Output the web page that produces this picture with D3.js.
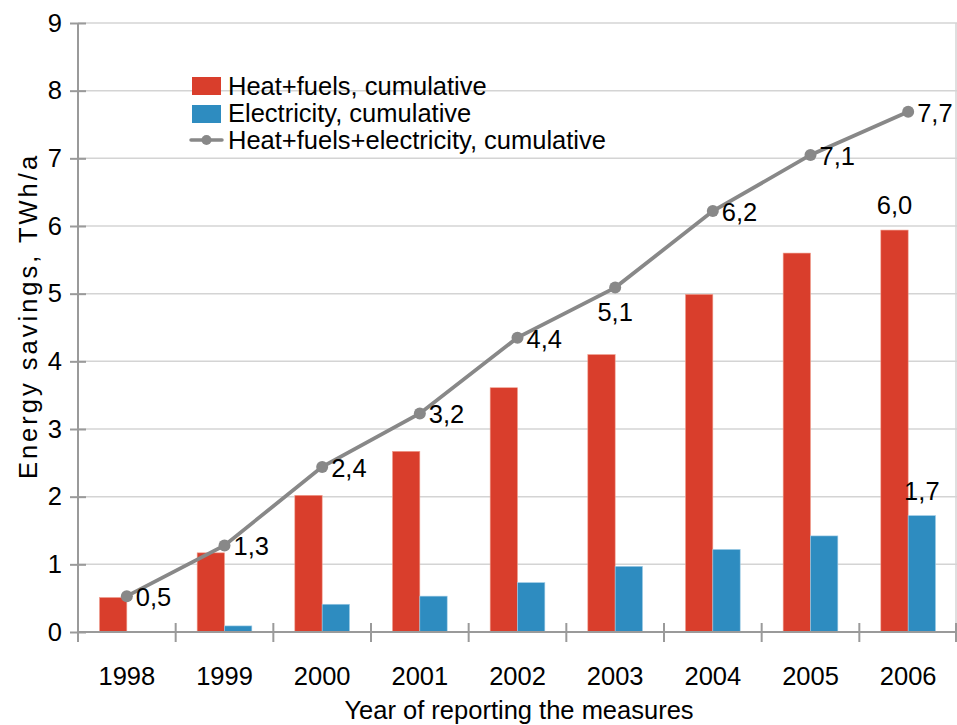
<!DOCTYPE html>
<html>
<head>
<meta charset="utf-8">
<script src="https://cdn.jsdelivr.net/npm/d3@7"></script>
<style>
  body { margin: 0; background: #fff; }
  text { font-family: "Liberation Sans", Arial, sans-serif; fill: #000; }
</style>
</head>
<body>
<script>
// data
var years = ["1998", "1999", "2000", "2001", "2002", "2003", "2004", "2005", "2006"];
var heatFuels = [0.51, 1.17, 2.02, 2.67, 3.61, 4.10, 4.99, 5.60, 5.94];
var electricity = [0, 0.09, 0.41, 0.53, 0.73, 0.97, 1.22, 1.42, 1.72];
var total = [0.53, 1.28, 2.44, 3.23, 4.35, 5.09, 6.22, 7.05, 7.69];
var totalLabels = ["0,5", "1,3", "2,4", "3,2", "4,4", "5,1", "6,2", "7,1", "7,7"];
var yTicks = [0, 1, 2, 3, 4, 5, 6, 7, 8, 9];
var legendNames = ["Heat+fuels, cumulative", "Electricity, cumulative", "Heat+fuels+electricity, cumulative"];

var width = 957, height = 725;
var margin = {left: 78, right: 0, top: 23, bottom: 93};
var red = "#d93e2c", blue = "#2e8cc0", grey = "#888888", axisGrey = "#9a9a9a";
var fontSize = 25.5;

var svg = d3.select("body").append("svg")
    .attr("width", width)
    .attr("height", height);

var x = d3.scaleBand()
    .domain(years)
    .range([margin.left, width - margin.right]);

var y = d3.scaleLinear()
    .domain([0, 9])
    .range([height - margin.bottom, margin.top]);

var bw = x.bandwidth();
var barW = bw * 0.28;
var mid = function (d) { return x(d) + bw / 2; };

// grid lines
svg.append("g")
    .selectAll("line")
    .data(yTicks.slice(1))
    .enter()
    .append("line")
    .attr("x1", margin.left)
    .attr("x2", width - margin.right)
    .attr("y1", function (d) { return y(d); })
    .attr("y2", function (d) { return y(d); })
    .style("stroke", "#d4d4d4")
    .style("stroke-width", 1.5);

// right border
svg.append("line")
    .attr("x1", width - 1).attr("x2", width - 1)
    .attr("y1", y(9)).attr("y2", y(0))
    .style("stroke", "#d4d4d4")
    .style("stroke-width", 1.5);

// bars
svg.append("g")
    .selectAll("rect")
    .data(years)
    .enter()
    .append("rect")
    .attr("x", function (d) { return mid(d) - barW; })
    .attr("y", function (d, i) { return y(heatFuels[i]); })
    .attr("width", barW)
    .attr("height", function (d, i) { return y(0) - y(heatFuels[i]); })
    .style("fill", red)
    .style("stroke", "#f0a090")
    .style("stroke-width", 0.6);

svg.append("g")
    .selectAll("rect")
    .data(years.filter(function (d, i) { return electricity[i] > 0; }))
    .enter()
    .append("rect")
    .attr("x", function (d) { return mid(d); })
    .attr("y", function (d) { return y(electricity[years.indexOf(d)]); })
    .attr("width", barW)
    .attr("height", function (d) { return y(0) - y(electricity[years.indexOf(d)]); })
    .style("fill", blue)
    .style("stroke", "#a0cce6")
    .style("stroke-width", 0.6);

// axes
var yAxis = d3.axisLeft(y).tickValues(yTicks).tickSize(8).tickPadding(8);
var gy = svg.append("g")
    .attr("transform", "translate(" + margin.left + ",0)")
    .call(yAxis);
gy.selectAll(".tick line").attr("x2", -8).attr("x1", 8);
gy.select(".domain").attr("d", "M0," + y(9) + "V" + (y(0) + 10));

var xAxis = d3.axisBottom(x).tickSize(0).tickPadding(35);
var gx = svg.append("g")
    .attr("transform", "translate(0," + y(0) + ")")
    .call(xAxis);
gx.select(".domain").attr("d", "M" + margin.left + ",0H" + width);

// category separator ticks
gx.selectAll(".sep")
    .data(years.concat(["end"]))
    .enter()
    .append("line")
    .attr("class", "sep")
    .attr("x1", function (d, i) { return i < years.length ? x(d) : width - 1; })
    .attr("x2", function (d, i) { return i < years.length ? x(d) : width - 1; })
    .attr("y1", -9)
    .attr("y2", 10);

svg.selectAll(".domain, .tick line, .sep")
    .style("stroke", axisGrey)
    .style("stroke-width", 2);
svg.selectAll(".tick text")
    .style("font-size", fontSize + "px")
    .style("font-family", "Liberation Sans, Arial, sans-serif")
    .attr("fill", "#000");

// total line
var line = d3.line()
    .x(function (d, i) { return mid(years[i]); })
    .y(function (d) { return y(d); });

svg.append("path")
    .datum(total)
    .attr("d", line)
    .style("fill", "none")
    .style("stroke", grey)
    .style("stroke-width", 3.8);

svg.append("g")
    .selectAll("circle")
    .data(total)
    .enter()
    .append("circle")
    .attr("cx", function (d, i) { return mid(years[i]); })
    .attr("cy", function (d) { return y(d); })
    .attr("r", 6)
    .style("fill", grey);

// total labels
svg.append("g")
    .selectAll("text")
    .data(total)
    .enter()
    .append("text")
    .attr("x", function (d, i) { return i == 5 ? mid(years[i]) : mid(years[i]) + 9; })
    .attr("y", function (d, i) { return i == 5 ? y(d) + 33 : y(d) + 10; })
    .attr("text-anchor", function (d, i) { return i == 5 ? "middle" : "start"; })
    .style("font-size", fontSize + "px")
    .text(function (d, i) { return totalLabels[i]; });

// last bar labels
svg.append("text")
    .attr("x", mid("2006") - barW / 2)
    .attr("y", y(heatFuels[8]) - 16)
    .attr("text-anchor", "middle")
    .style("font-size", fontSize + "px")
    .text("6,0");

svg.append("text")
    .attr("x", mid("2006") + barW / 2)
    .attr("y", y(electricity[8]) - 16)
    .attr("text-anchor", "middle")
    .style("font-size", fontSize + "px")
    .text("1,7");

// legend
var legend = svg.append("g").attr("transform", "translate(192,77)");
legend.append("rect").attr("x", 0).attr("y", 0).attr("width", 29).attr("height", 18).style("fill", red);
legend.append("rect").attr("x", 0).attr("y", 28).attr("width", 29).attr("height", 18).style("fill", blue);
legend.append("line").attr("x1", -1).attr("x2", 30).attr("y1", 63).attr("y2", 63)
    .style("stroke", grey).style("stroke-width", 3.5).style("stroke-linecap", "round");
legend.append("circle").attr("cx", 14.5).attr("cy", 63).attr("r", 5).style("fill", grey);
legend.selectAll("text")
    .data(legendNames)
    .enter()
    .append("text")
    .attr("x", 36)
    .attr("y", function (d, i) { return 18 + i * 27; })
    .style("font-size", fontSize + "px")
    .text(function (d) { return d; });

// axis titles
svg.append("text")
    .attr("transform", "translate(37,316) rotate(-90)")
    .attr("text-anchor", "middle")
    .style("font-size", fontSize + "px")
    .style("letter-spacing", "3px")
    .text("Energy savings,  TWh/a");

svg.append("text")
    .attr("x", 519)
    .attr("y", 719)
    .attr("text-anchor", "middle")
    .style("font-size", fontSize + "px")
    .text("Year of reporting the measures");
</script>
</body>
</html>
